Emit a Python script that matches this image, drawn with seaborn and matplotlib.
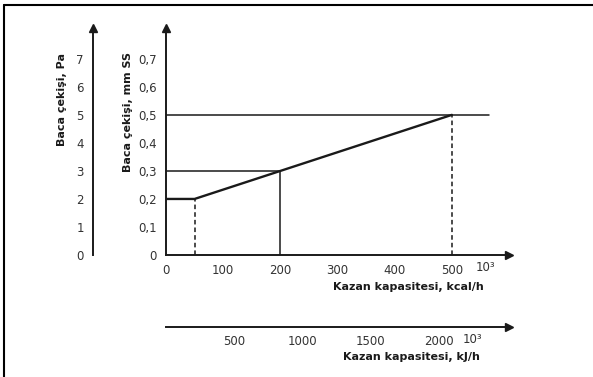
import numpy as np
import pandas as pd
import seaborn as sns
import matplotlib.pyplot as plt
from matplotlib.lines import Line2D

# values
kcal_ticks = [0, 100, 200, 300, 400, 500]
mmss_ticks = [0, 0.1, 0.2, 0.3, 0.4, 0.5, 0.6, 0.7]
pa_ticks = [0, 1, 2, 3, 4, 5, 6, 7]
kj_ticks = [500, 1000, 1500, 2000]

curve_x = [0, 50, 200, 500]
curve_y = [0.2, 0.2, 0.3, 0.5]

sns.set_theme(style="white")
plt.rcParams['font.family'] = ['DejaVu Sans']

W, H = 593, 377
fig = plt.figure(figsize=(W / 100, H / 100), dpi=100)

def box(x0, y0, x1, y1):
    return [x0 / W, 1 - y1 / H, (x1 - x0) / W, (y1 - y0) / H]

col = '#1a1a1a'
fs = 8.5

# main axes: origin at (166, 255)
ax = fig.add_axes(box(166, 28, 509, 255))
ax.set_xlim(0, 600)
ax.set_ylim(0, 0.81)

df = pd.DataFrame({'kcal': curve_x, 'mmss': curve_y})
sns.lineplot(data=df, x='kcal', y='mmss', ax=ax, color=col, lw=1.7, sort=False)
ax.plot([0, 565], [0.5, 0.5], color=col, lw=1.1)
ax.plot([0, 200], [0.3, 0.3], color=col, lw=1.1)
ax.plot([50, 50], [0, 0.2], color=col, lw=1.1, ls=(0, (3, 2)))
ax.plot([200, 200], [0, 0.3], color=col, lw=1.1)
ax.plot([500, 500], [0, 0.5], color=col, lw=1.1, ls=(0, (3, 2)))

for s in ['top', 'right']:
    ax.spines[s].set_visible(False)
for s in ['left', 'bottom']:
    ax.spines[s].set_color(col)
    ax.spines[s].set_linewidth(1.4)
ax.set_xticks(kcal_ticks)
ax.set_yticks(mmss_ticks)
ax.set_yticklabels(['0'] + [f'{v:.1f}'.replace('.', ',') for v in mmss_ticks[1:]])
ax.tick_params(direction='inout', length=5, width=0.9, color=col,
               labelsize=fs, labelcolor='#333333', pad=4)
ax.set_xlabel('')
ax.set_ylabel('')
ax.plot(1, 0, '>', color=col, ms=6, transform=ax.transAxes, clip_on=False)
ax.plot(0, 1, '^', color=col, ms=6, transform=ax.transAxes, clip_on=False)
fig.text(485 / W, 1 - 261 / H, '10³', ha='center', va='top', fontsize=fs, color='#333333')

# Pa axis
axp = fig.add_axes(box(93, 28, 94, 255))
axp.set_ylim(0, 8.1)
axp.set_xlim(0, 1)
for s in ['top', 'right', 'bottom']:
    axp.spines[s].set_visible(False)
axp.spines['left'].set_color(col)
axp.spines['left'].set_linewidth(1.4)
axp.set_xticks([])
axp.set_yticks(pa_ticks)
axp.tick_params(axis='y', direction='inout', length=5, width=0.9, color=col,
                labelsize=fs, labelcolor='#333333', pad=4)
axp.patch.set_alpha(0)
axp.plot(0, 1, '^', color=col, ms=6, transform=axp.transAxes, clip_on=False)

# kJ/h axis
axk = fig.add_axes(box(166, 326, 509, 327))
axk.set_xlim(0, 600 * 4.1868)
for s in ['top', 'right', 'left']:
    axk.spines[s].set_visible(False)
axk.spines['bottom'].set_color(col)
axk.spines['bottom'].set_linewidth(1.4)
axk.set_yticks([])
axk.set_xticks(kj_ticks)
axk.tick_params(axis='x', direction='inout', length=4, width=0.9, color=col,
                labelsize=fs, labelcolor='#333333', pad=4)
axk.patch.set_alpha(0)
axk.plot(1, 0, '>', color=col, ms=6, transform=axk.transAxes, clip_on=False)
fig.text(472 / W, 1 - 333 / H, '10³', ha='center', va='top', fontsize=fs, color='#333333')

# axis titles
fig.text(408 / W, 1 - 287 / H, 'Kazan kapasitesi, kcal/h', ha='center', va='center',
         fontsize=8, fontweight='bold', color=col)
fig.text(411 / W, 1 - 357 / H, 'Kazan kapasitesi, kJ/h', ha='center', va='center',
         fontsize=8, fontweight='bold', color=col)
fig.text(62 / W, 1 - 99 / H, 'Baca çekişi, Pa', ha='center', va='center', rotation=90,
         fontsize=8, fontweight='bold', color=col)
fig.text(128 / W, 1 - 112 / H, 'Baca çekişi, mm SS', ha='center', va='center', rotation=90,
         fontsize=8, fontweight='bold', color=col)

# frame
fig.add_artist(Line2D([4 / W, 4 / W], [0, 1 - 5 / H], color='black', lw=1.5))
fig.add_artist(Line2D([4 / W, 1], [1 - 5 / H, 1 - 5 / H], color='black', lw=1.5))

fig.savefig('out.png', dpi=100)
